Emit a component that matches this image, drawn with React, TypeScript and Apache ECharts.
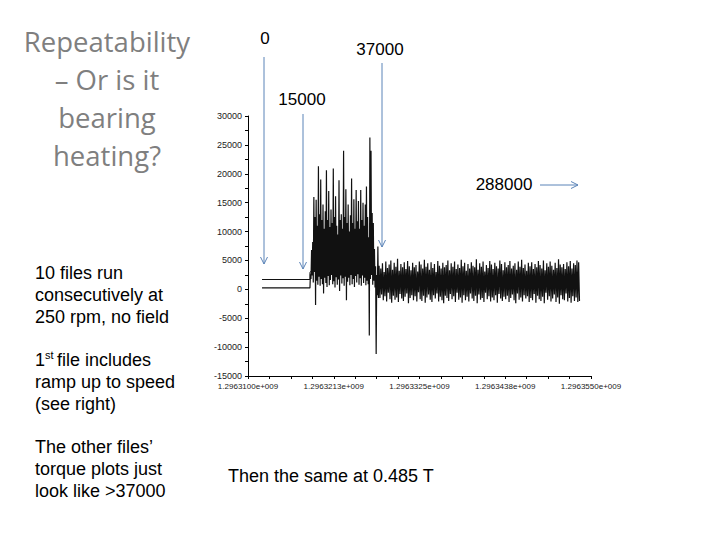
import React, { useEffect, useRef } from "react";
import * as echarts from "echarts";

// ---- axis data ----
const timeBase = 1296310000; // seconds, epoch of the axis start
const axisStart = 0;
const axisEnd = 45000;
const tickStep = 11250;
const torqueMin = -15000;
const torqueMax = 30000;
const torqueStep = 5000;

// ---- idle (before start) : two traces ----
const idleTimes = [1840, 8130];
const idleLowValues = [250, 250];

const upperTimes = [1840, 8130, 8130, 8450, 8800, 9200];
const upperValues = [1700, 1700, 2900, 3400, 4000, 4500];

// ---- ramp-up burst ----
const burstStart = 8190;
const burstStep = 75;
const burstValues = [
  2600, 1800, 6800, 2400, 8200, 1200, 16000, 3000, 12500, -2700,
  15500, 1500, 11000, 800, 21300, 2200, 13000, 600, 19000, 1800,
  12000, 900, 14700, -700, 10500, 2000, 13500, 1100, 20600, 400,
  12000, 2300, 17000, 700, 10800, 1600, 13800, 2500, 11500, 900,
  20900, 1400, 12500, 300, 16100, 2100, 11000, 800, 9500, 1700,
  18900, -300, 12000, 2400, 13000, 1000, 10500, 1900, 24000, 600,
  12500, 2200, 17300, -1900, 11500, 1300, 14700, 2000, 10000, 700,
  12800, 2500, 19200, 900, 11500, 1800, 15600, 400, 10500, 2300,
  17200, 1200, 11800, 2600, 15300, 800, 10500, 1900, 17200, 600,
  12000, 2400, 15000, 1100, 11000, 2000, 14700, 700, 17800, 1500,
  12500, 900, 9000, -8000, 26300, 1800, 24000, 2500, 13200, 800,
  11500, 1500, 7000, 300, 4000, -11200, 2500, -1000, 7400, -1500,
];

// ---- steady running ----
const steadyStart = 17200;
const steadyStep = 110;
const steadyValues = [
  4100, -1500, 3600, -900, 4500, -1900, 3000, -1200, 4800, -2100,
  3700, -600, 4300, -1700, 5000, -2300, 3400, -1100, 4600, -1800,
  3900, -1400, 5300, -2200, 3200, -800, 4400, -1600, 3800, -2000,
  4700, -1300, 3500, -700, 4900, -2400, 4000, -1500, 3300, -1000,
  4600, -1900, 3800, -1200, 4200, -2100, 3100, -500, 4800, -1700,
  4300, -2000, 3600, -1100, 5100, -2300, 3900, -1400, 4500, -900,
  3400, -1800, 4700, -2200, 3700, -1000, 4400, -1600, 3000, -700,
  4900, -2100, 4100, -1300, 3600, -1900, 4600, -2400, 3800, -1100,
  4200, -1500, 5000, -2000, 3300, -800, 4500, -1700, 3900, -1200,
  4800, -2200, 3500, -600, 4300, -1800, 3700, -1400, 5100, -2300,
  4000, -1000, 4600, -1900, 3200, -1300, 4400, -2100, 3600, -700,
  4700, -1600, 4100, -2000, 3800, -1100, 5200, -2400, 3400, -900,
  4500, -1800, 3900, -1500, 4800, -2200, 3100, -600, 4200, -1700,
  3700, -1200, 4900, -2100, 4300, -1400, 3500, -1900, 4600, -1000,
  4000, -2300, 3600, -800, 5000, -1600, 4400, -2000, 3300, -1300,
  4700, -1700, 3800, -1100, 4200, -2200, 4900, -1500, 3600, -900,
  4100, -1900, 4500, -2400, 3400, -700, 4800, -1800, 3900, -1400,
  5100, -2100, 3700, -1000, 4300, -1600, 3200, -1200, 4600, -2200,
  4000, -1500, 4700, -1900, 3500, -800, 4400, -2300, 3800, -1100,
  4900, -1700, 4200, -2000, 3600, -1300, 5000, -2400, 3300, -600,
  4500, -1800, 3900, -1200, 4800, -2100, 4100, -1600, 3400, -900,
  4600, -2200, 3700, -1400, 5200, -2500, 4300, -1000, 3800, -1700,
  4400, -1900, 3500, -700, 4700, -2100, 4000, -1500, 4900, -2300,
  3600, -1200, 4500, -2000, 4200, -1400, 5000, -2200, 4700, -2000,
];

// ---- slide texts ----
const titleLines = ["Repeatability", "\u2013 Or is it", "bearing", "heating?"];
const notesBlock1 = ["10 files run", "consecutively at", "250 rpm, no field"];
const notesBlock2 = ["ramp up to speed", "(see right)"];
const notesBlock3 = ["The other files\u2019", "torque plots just", "look like >37000"];
const markerLabels = ["0", "15000", "37000", "288000"];
const footnote = "Then the same at 0.485 T";

const SANS = "'Liberation Sans', Arial, Helvetica, sans-serif";
const ARROW = "#5b84b8";

function txt(text: string, x: number, y: number, size: number, extra: any = {}) {
  const align = extra.align || "left";
  return {
    type: "text",
    x,
    y,
    silent: true,
    style: {
      text,
      fontSize: size,
      fontFamily: extra.font || SANS,
      fill: extra.fill || "#000",
      textAlign: align,
      align,
      textVerticalAlign: "middle",
      verticalAlign: "middle",
    },
  };
}

function downArrow(x: number, y1: number, y2: number) {
  return [
    { type: "line", silent: true, shape: { x1: x, y1, x2: x, y2 }, style: { stroke: ARROW, lineWidth: 1 } },
    {
      type: "polyline",
      silent: true,
      shape: { points: [[x - 3.5, y2 - 7], [x, y2], [x + 3.5, y2 - 7]] },
      style: { stroke: ARROW, fill: "none", lineWidth: 1 },
    },
  ];
}

function rightArrow(x1: number, x2: number, y: number) {
  return [
    { type: "line", silent: true, shape: { x1, y1: y, x2, y2: y }, style: { stroke: ARROW, lineWidth: 1 } },
    {
      type: "polyline",
      silent: true,
      shape: { points: [[x2 - 7, y - 3.5], [x2, y], [x2 - 7, y + 3.5]] },
      style: { stroke: ARROW, fill: "none", lineWidth: 1 },
    },
  ];
}

function fmtTime(v: number) {
  const r = Math.round((timeBase + v) / 100) / 1e7;
  return r.toFixed(7) + "e+009";
}

export default function App() {
  const ref = useRef<HTMLDivElement>(null);
  useEffect(() => {
    if (!ref.current) return;
    const chart = echarts.init(ref.current, null, { renderer: "svg" });

    const mainData = [
      ...idleTimes.map((t, i) => [t, idleLowValues[i]]),
      ...burstValues.map((v, i) => [burstStart + i * burstStep, v]),
      ...steadyValues.map((v, i) => [steadyStart + i * steadyStep, v]),
    ];
    const upperData = upperTimes.map((t, i) => [t, upperValues[i]]);

    const graphics: any[] = [];
    titleLines.forEach((l, i) =>
      graphics.push(txt(l, 107, 41 + i * 38, 27.5, { align: "center", fill: "#7f7f7f", font: "'Open Sans', Lato, sans-serif" }))
    );
    notesBlock1.forEach((l, i) => graphics.push(txt(l, 35, 273 + i * 22, 18)));
    graphics.push(txt("1", 35, 360, 18));
    graphics.push(txt("st", 45, 355, 11));
    graphics.push(txt("file includes", 57, 360, 18));
    notesBlock2.forEach((l, i) => graphics.push(txt(l, 35, 382 + i * 22, 18)));
    notesBlock3.forEach((l, i) => graphics.push(txt(l, 35, 447 + i * 22, 18)));
    graphics.push(txt(footnote, 228, 476, 18));

    graphics.push(txt(markerLabels[0], 265, 38, 17, { align: "center" }));
    graphics.push(txt(markerLabels[1], 302, 99, 17, { align: "center" }));
    graphics.push(txt(markerLabels[2], 380, 49, 17, { align: "center" }));
    graphics.push(txt(markerLabels[3], 504, 184, 17, { align: "center" }));
    graphics.push(...downArrow(264, 57, 264));
    graphics.push(...downArrow(303, 114, 269));
    graphics.push(...downArrow(382, 63, 247));
    graphics.push(...rightArrow(540, 578, 185));

    const axisCommon = {
      axisLine: { show: true, onZero: false, lineStyle: { color: "#000", width: 1 } },
      axisTick: { show: true, inside: false, length: 3, lineStyle: { color: "#000" } },
      splitLine: { show: false },
      minorSplitLine: { show: false },
    };

    chart.setOption({
      animation: false,
      backgroundColor: "#fff",
      grid: { left: 248, top: 116, width: 343, height: 260, containLabel: false },
      xAxis: {
        type: "value",
        min: axisStart,
        max: axisEnd,
        interval: tickStep,
        ...axisCommon,
        minorTick: { show: true, splitNumber: 4, length: 3, lineStyle: { color: "#000" } },
        axisLabel: { formatter: fmtTime, fontSize: 8, color: "#222", margin: 6, fontFamily: SANS },
      },
      yAxis: {
        type: "value",
        min: torqueMin,
        max: torqueMax,
        interval: torqueStep,
        ...axisCommon,
        minorTick: { show: true, splitNumber: 2, length: 3, lineStyle: { color: "#000" } },
        axisLabel: { formatter: (v: number) => String(v), fontSize: 9, color: "#222", margin: 6, fontFamily: SANS },
      },
      series: [
        {
          type: "line",
          data: upperData,
          showSymbol: false,
          symbol: "none",
          lineStyle: { color: "#111", width: 1 },
          silent: true,
        },
        {
          type: "line",
          data: mainData,
          showSymbol: false,
          symbol: "none",
          lineStyle: { color: "#111", width: 1.2 },
          silent: true,
        },
      ],
      graphic: { elements: graphics },
    });
    return () => chart.dispose();
  }, []);
  return (
    <div
      ref={ref}
      style={{ position: "fixed", left: 0, top: 0, width: 720, height: 540, background: "#fff" }}
    />
  );
}
